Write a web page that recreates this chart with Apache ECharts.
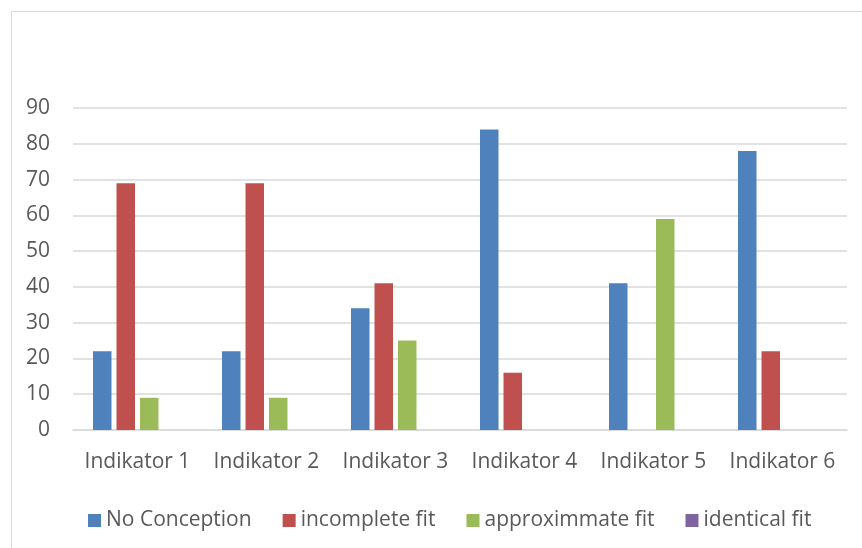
<!DOCTYPE html>
<html>
<head>
<meta charset="utf-8">
<script src="https://cdn.jsdelivr.net/npm/echarts@6/dist/echarts.min.js"></script>
<style>
  html, body { margin: 0; padding: 0; background: #fff; }
  #chart { width: 862px; height: 548px; }
</style>
</head>
<body>
<div id="chart"></div>
<script>
// data
const categories = ['Indikator 1', 'Indikator 2', 'Indikator 3', 'Indikator 4', 'Indikator 5', 'Indikator 6'];
const noConception = [22, 22, 34, 84, 41, 78];
const incompleteFit = [69, 69, 41, 16, 0, 22];
const approxFit = [9, 9, 25, 0, 59, 0];
const identicalFit = [0, 0, 0, 0, 0, 0];

const chart = echarts.init(document.getElementById('chart'));

const font = '"Open Sans", sans-serif';

function bar(name, data, color) {
  return {
    name: name,
    type: 'bar',
    data: data,
    barWidth: 18.5,
    barGap: '27%',
    itemStyle: { color: color }
  };
}

chart.setOption({
  animation: false,
  textStyle: { fontFamily: font },
  graphic: [{
    type: 'rect',
    left: 9,
    top: 9,
    shape: { width: 900, height: 600 },
    style: { fill: 'none', stroke: '#d9d9d9', lineWidth: 1 },
    silent: true
  }],
  grid: {
    left: 73,
    right: 15,
    top: 108,
    bottom: 118,
    containLabel: false
  },
  legend: {
    left: 83,
    top: 505,
    itemWidth: 13,
    itemHeight: 13,
    itemGap: 31,
    icon: 'rect',
    textStyle: { fontSize: 21, color: '#595959', fontFamily: font },
    data: ['No Conception', 'incomplete fit', 'approximmate fit', 'identical fit']
  },
  xAxis: {
    type: 'category',
    data: categories,
    axisLine: { lineStyle: { color: '#d9d9d9', width: 1.5 } },
    axisTick: { show: false },
    axisLabel: { interval: 0, hideOverlap: false, fontSize: 21, color: '#595959', margin: 22, fontFamily: font }
  },
  yAxis: {
    type: 'value',
    min: 0,
    max: 90,
    interval: 10,
    axisLine: { show: false },
    axisTick: { show: false },
    axisLabel: { fontSize: 21, color: '#595959', margin: 23, fontFamily: font },
    splitLine: { lineStyle: { color: '#d9d9d9', width: 1.5 } }
  },
  series: [
    bar('No Conception', noConception, '#4f81bd'),
    bar('incomplete fit', incompleteFit, '#c0504d'),
    bar('approximmate fit', approxFit, '#9bbb59'),
    bar('identical fit', identicalFit, '#8064a2')
  ]
});
</script>
</body>
</html>
